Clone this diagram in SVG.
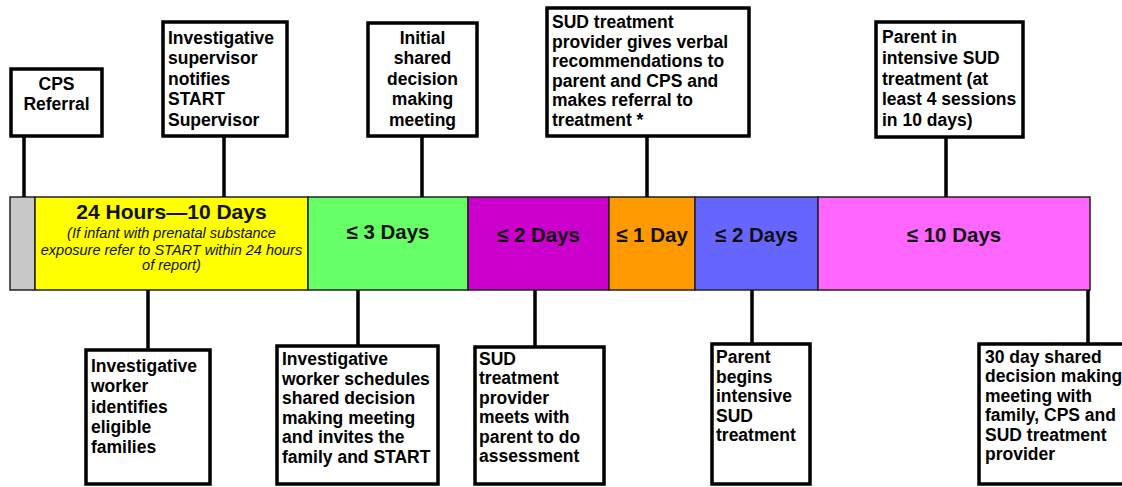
<svg xmlns="http://www.w3.org/2000/svg" width="1122" height="487" viewBox="0 0 1122 487">
<style>
.box{fill:#fff;stroke:#000;stroke-width:3.5}
.seg{stroke:#222;stroke-width:1.5}
.t{font-family:"Liberation Sans",Arial,sans-serif;font-weight:bold;font-size:17.5px;fill:#000}
.c{text-anchor:middle}
.bar{font-family:"Liberation Sans",Arial,sans-serif;font-weight:bold;font-size:20.5px;fill:#111;text-anchor:middle}
.it{font-family:"Liberation Sans",Arial,sans-serif;font-style:italic;font-size:14.5px;fill:#111;text-anchor:middle}
.conn line{stroke:#000;stroke-width:3.5}
</style>
<rect width="1122" height="487" fill="#fff"/>
<g id="timeline">
<rect class="seg" x="10" y="197" width="25" height="93" fill="#c8c8c8"/>
<rect class="seg" x="35" y="197" width="273" height="93" fill="#ffff00"/>
<rect class="seg" x="308" y="197" width="160" height="93" fill="#66ff66"/>
<rect class="seg" x="468" y="197" width="141" height="93" fill="#cc00cc"/>
<rect class="seg" x="609" y="197" width="86" height="93" fill="#ff9900"/>
<rect class="seg" x="695" y="197" width="123" height="93" fill="#6666ff"/>
<rect class="seg" x="818" y="197" width="272" height="93" fill="#ff66ff"/>
<text class="bar" x="171.5" y="219" style="font-size:21px">24 Hours—10 Days</text>
<text class="it" x="171.5" y="238">(If infant with prenatal substance</text>
<text class="it" x="171.5" y="254.5">exposure refer to START within 24 hours</text>
<text class="it" x="171.5" y="270">of report)</text>
<text class="bar" x="388" y="239">≤ 3 Days</text>
<text class="bar" x="538.5" y="242">≤ 2 Days</text>
<text class="bar" x="652" y="242">≤ 1 Day</text>
<text class="bar" x="756.5" y="242">≤ 2 Days</text>
<text class="bar" x="954" y="242">≤ 10 Days</text>
</g>
<g class="conn" id="connectors">
<line x1="24" y1="136" x2="24" y2="197"/>
<line x1="224" y1="136" x2="224" y2="197"/>
<line x1="422" y1="136" x2="422" y2="197"/>
<line x1="647" y1="136" x2="647" y2="197"/>
<line x1="946" y1="137" x2="946" y2="197"/>
<line x1="148" y1="290" x2="148" y2="350"/>
<line x1="358" y1="290" x2="358" y2="346"/>
<line x1="535" y1="290" x2="535" y2="347"/>
<line x1="752" y1="290" x2="752" y2="344"/>
<line x1="1088" y1="290" x2="1088" y2="344"/>
</g>
<g id="cps-referral">
<rect class="box" x="11" y="69" width="91" height="67"/>
<text class="t c" x="56.5" y="90">CPS</text>
<text class="t c" x="56.5" y="110">Referral</text>
</g>
<g id="inv-supervisor">
<rect class="box" x="163" y="22" width="124" height="114"/>
<text class="t" x="168" y="43.5">Investigative</text>
<text class="t" x="168" y="64">supervisor</text>
<text class="t" x="168" y="84.5">notifies</text>
<text class="t" x="168" y="105">START</text>
<text class="t" x="168" y="125.5">Supervisor</text>
</g>
<g id="initial-meeting">
<rect class="box" x="368" y="23" width="109" height="113"/>
<text class="t c" x="422.5" y="43.5">Initial</text>
<text class="t c" x="422.5" y="64">shared</text>
<text class="t c" x="422.5" y="84.5">decision</text>
<text class="t c" x="422.5" y="105">making</text>
<text class="t c" x="422.5" y="125.5">meeting</text>
</g>
<g id="sud-recommend">
<rect class="box" x="547" y="8" width="202" height="128"/>
<text class="t" x="552" y="28">SUD treatment</text>
<text class="t" x="552" y="47.6">provider gives verbal</text>
<text class="t" x="552" y="67.2">recommendations to</text>
<text class="t" x="552" y="86.8">parent and CPS and</text>
<text class="t" x="552" y="106.4">makes referral to</text>
<text class="t" x="552" y="126">treatment *</text>
</g>
<g id="parent-intensive">
<rect class="box" x="876" y="22" width="147" height="115"/>
<text class="t" x="882" y="43">Parent in</text>
<text class="t" x="882" y="63.8">intensive SUD</text>
<text class="t" x="882" y="84.6">treatment (at</text>
<text class="t" x="882" y="105.4">least 4 sessions</text>
<text class="t" x="882" y="126">in 10 days)</text>
</g>
<g id="inv-worker-identifies">
<rect class="box" x="86" y="350" width="124" height="134"/>
<text class="t" x="91" y="372">Investigative</text>
<text class="t" x="91" y="392.2">worker</text>
<text class="t" x="91" y="412.5">identifies</text>
<text class="t" x="91" y="432.7">eligible</text>
<text class="t" x="91" y="453">families</text>
</g>
<g id="inv-worker-schedules">
<rect class="box" x="277" y="346" width="161" height="138"/>
<text class="t" x="282" y="365">Investigative</text>
<text class="t" x="282" y="384.6">worker schedules</text>
<text class="t" x="282" y="404.2">shared decision</text>
<text class="t" x="282" y="423.8">making meeting</text>
<text class="t" x="282" y="443.4">and invites the</text>
<text class="t" x="282" y="463">family and START</text>
</g>
<g id="sud-assessment">
<rect class="box" x="475" y="347" width="129" height="137"/>
<text class="t" x="479" y="365">SUD</text>
<text class="t" x="479" y="384.4">treatment</text>
<text class="t" x="479" y="403.8">provider</text>
<text class="t" x="479" y="423.2">meets with</text>
<text class="t" x="479" y="442.6">parent to do</text>
<text class="t" x="479" y="462">assessment</text>
</g>
<g id="parent-begins">
<rect class="box" x="712" y="344" width="98" height="140"/>
<text class="t" x="716" y="363">Parent</text>
<text class="t" x="716" y="382.5">begins</text>
<text class="t" x="716" y="402">intensive</text>
<text class="t" x="716" y="421.5">SUD</text>
<text class="t" x="716" y="441">treatment</text>
</g>
<g id="thirty-day-meeting">
<rect class="box" x="979" y="344" width="150" height="140"/>
<text class="t" x="985" y="363">30 day shared</text>
<text class="t" x="985" y="382.4">decision making</text>
<text class="t" x="985" y="401.8">meeting with</text>
<text class="t" x="985" y="421.2">family, CPS and</text>
<text class="t" x="985" y="440.6">SUD treatment</text>
<text class="t" x="985" y="460">provider</text>
</g>
</svg>
